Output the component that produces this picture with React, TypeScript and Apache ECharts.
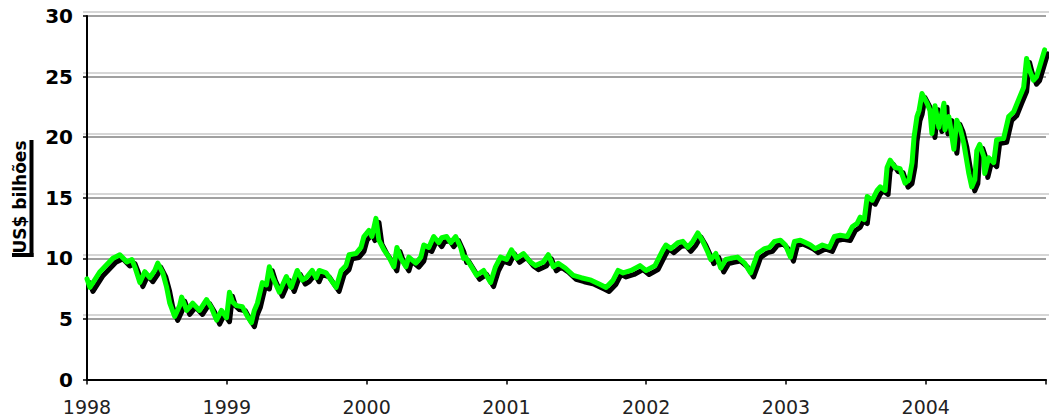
import React, { useEffect, useRef } from "react";
import * as echarts from "echarts";

// Decimal years and reserves in US$ billions
const years = [
  1998.0, 1998.021, 1998.093, 1998.185, 1998.235, 1998.285, 1998.321, 1998.342, 1998.378, 1998.413,
  1998.449, 1998.485, 1998.506, 1998.542, 1998.57, 1998.592, 1998.627, 1998.663, 1998.677, 1998.713,
  1998.756, 1998.805, 1998.855, 1998.891, 1998.927, 1998.962, 1998.998, 1999.019, 1999.041, 1999.069,
  1999.112, 1999.148, 1999.176, 1999.197, 1999.219, 1999.254, 1999.283, 1999.304, 1999.326, 1999.376,
  1999.426, 1999.461, 1999.504, 1999.54, 1999.568, 1999.611, 1999.639, 1999.661, 1999.711, 1999.746,
  1999.782, 1999.818, 1999.853, 1999.875, 1999.924, 1999.96, 1999.981, 2000.017, 2000.038, 2000.067,
  2000.088, 2000.124, 2000.16, 2000.195, 2000.217, 2000.245, 2000.281, 2000.302, 2000.352, 2000.388,
  2000.409, 2000.445, 2000.48, 2000.516, 2000.537, 2000.573, 2000.602, 2000.637, 2000.673, 2000.694,
  2000.708, 2000.751, 2000.787, 2000.837, 2000.887, 2000.922, 2000.958, 2001.001, 2001.036, 2001.072,
  2001.122, 2001.172, 2001.207, 2001.264, 2001.3, 2001.336, 2001.371, 2001.421, 2001.478, 2001.535,
  2001.606, 2001.678, 2001.713, 2001.763, 2001.799, 2001.835, 2001.892, 2001.956, 2001.999, 2002.063,
  2002.12, 2002.141, 2002.177, 2002.227, 2002.262, 2002.298, 2002.334, 2002.369, 2002.405, 2002.441,
  2002.462, 2002.498, 2002.533, 2002.569, 2002.605, 2002.654, 2002.704, 2002.747, 2002.776, 2002.797,
  2002.847, 2002.882, 2002.918, 2002.961, 2002.996, 2003.032, 2003.061, 2003.103, 2003.139, 2003.175,
  2003.21, 2003.26, 2003.31, 2003.346, 2003.388, 2003.438, 2003.474, 2003.51, 2003.531, 2003.56,
  2003.581, 2003.617, 2003.652, 2003.674, 2003.709, 2003.723, 2003.745, 2003.78, 2003.816, 2003.852,
  2003.88, 2003.902, 2003.916, 2003.937, 2003.952, 2003.973, 2004.009, 2004.03, 2004.044, 2004.066,
  2004.094, 2004.13, 2004.137, 2004.165, 2004.201, 2004.222, 2004.244, 2004.272, 2004.308, 2004.329,
  2004.351, 2004.365, 2004.386, 2004.415, 2004.422, 2004.45, 2004.486, 2004.507, 2004.557, 2004.593,
  2004.629, 2004.664, 2004.7, 2004.721, 2004.743, 2004.771, 2004.793, 2004.814, 2004.85,
];

const reserves = [
  8.3, 7.6, 8.9, 10.0, 10.3, 9.7, 9.9, 9.3, 8.0, 8.9,
  8.4, 9.0, 9.6, 8.8, 7.6, 6.3, 5.2, 6.1, 6.8, 5.7,
  6.3, 5.7, 6.6, 5.9, 4.9, 5.7, 5.1, 7.2, 6.4, 6.1,
  6.0, 5.2, 4.7, 5.7, 6.3, 8.0, 7.8, 9.3, 8.5, 7.2,
  8.5, 7.6, 9.0, 8.2, 8.4, 9.0, 8.4, 9.0, 8.8, 8.2,
  7.6, 9.0, 9.4, 10.3, 10.4, 10.9, 11.8, 12.3, 11.8, 13.3,
  11.5, 10.7, 10.1, 9.3, 10.9, 10.0, 9.3, 10.1, 9.6, 10.1,
  11.1, 10.9, 11.8, 11.3, 11.7, 11.8, 11.3, 11.8, 10.9, 10.0,
  10.1, 9.3, 8.6, 9.0, 8.0, 9.3, 10.1, 9.9, 10.7, 10.0,
  10.4, 9.7, 9.4, 9.7, 10.3, 9.3, 9.6, 9.2, 8.6, 8.4,
  8.2, 7.8, 7.6, 8.2, 9.0, 8.8, 9.0, 9.4, 9.0, 9.4,
  10.7, 11.1, 10.8, 11.3, 11.4, 10.9, 11.4, 12.1, 11.4, 10.5,
  9.9, 10.4, 9.2, 9.9, 10.0, 10.1, 9.6, 8.8, 9.7, 10.4,
  10.8, 10.9, 11.4, 11.5, 11.1, 10.1, 11.4, 11.5, 11.3, 11.1,
  10.8, 11.1, 10.9, 11.8, 11.9, 11.8, 12.6, 12.9, 13.4, 13.2,
  15.1, 14.8, 15.6, 15.9, 15.6, 17.5, 18.1, 17.5, 17.4, 16.2,
  16.5, 17.9, 20.0, 21.7, 22.2, 23.6, 22.8, 22.2, 20.3, 22.6,
  20.8, 22.8, 20.6, 21.7, 19.0, 21.4, 20.8, 19.5, 17.0, 15.9,
  16.5, 18.9, 19.4, 18.4, 17.0, 18.3, 17.9, 19.8, 19.9, 21.7,
  22.1, 23.1, 24.1, 26.5, 25.5, 24.7, 25.0, 25.8, 27.2,
];

const yTicks = [0, 5, 10, 15, 20, 25, 30];
const xStart = 1998;
const xEnd = 2004.86;
const yTitle = "US$ bilhões";

export default function App() {
  const ref = useRef<HTMLDivElement>(null);

  useEffect(() => {
    if (!ref.current) return;
    const chart = echarts.init(ref.current, null, { renderer: "svg" });
    const data = years.map((y, i) => [y, reserves[i]]);
    const yMin = yTicks[0];
    const yMax = yTicks[yTicks.length - 1];

    chart.setOption({
      animation: false,
      backgroundColor: "#ffffff",
      grid: [
        { left: 87, right: 0, top: 16, bottom: 40.5 },
        { left: 90, right: -3, top: 20, bottom: 36.5 },
        { left: 83, right: 0, top: 12, bottom: 104.8 },
      ],
      xAxis: [
        {
          gridIndex: 0,
          type: "value",
          min: xStart,
          max: xEnd,
          interval: 1,
          axisLine: { show: true, onZero: false, lineStyle: { color: "#000", width: 2 } },
          axisTick: { show: true, length: 5, lineStyle: { color: "#000", width: 1.5 } },
          axisLabel: {
            fontFamily: "DejaVu Sans",
            fontSize: 19,
            color: "#222",
            margin: 18,
            formatter: (v: number) => (Number.isInteger(v) ? String(v) : ""),
          },
          splitLine: { show: false },
        },
        { gridIndex: 1, type: "value", min: xStart, max: xEnd, show: false },
        { gridIndex: 2, type: "value", min: xStart, max: xEnd, show: false },
      ],
      yAxis: [
        {
          gridIndex: 0,
          type: "value",
          min: yMin,
          max: yMax,
          interval: 5,
          axisLine: { show: true, onZero: false, lineStyle: { color: "#000", width: 2 } },
          axisTick: { show: true, length: 4, lineStyle: { color: "#000", width: 1.5 } },
          axisLabel: {
            fontFamily: "DejaVu Sans",
            fontWeight: "bold",
            fontSize: 20,
            color: "#000",
            margin: 14,
            formatter: (v: number) => String(v),
          },
          splitLine: { show: true, lineStyle: { color: "#808080", width: 1.6 } },
        },
        { gridIndex: 1, type: "value", min: yMin, max: yMax, show: false },
        {
          gridIndex: 2,
          type: "value",
          min: 5,
          max: yMax,
          interval: 5,
          axisLine: { show: false },
          axisTick: { show: false },
          axisLabel: { show: false },
          splitLine: { show: true, lineStyle: { color: "#c8c8c8", width: 1.6 } },
        },
      ],
      graphic: [
        {
          type: "text",
          x: 20,
          y: 197,
          rotation: Math.PI / 2,
          style: {
            text: yTitle,
            fontFamily: "DejaVu Sans",
            fontWeight: "bold",
            fontSize: 17,
            fill: "#000",
            align: "center",
            verticalAlign: "middle",
          },
        },
        { type: "rect", shape: { x: 29.5, y: 140, width: 4, height: 117 }, style: { fill: "#000" } },
        { type: "rect", shape: { x: 12, y: 253, width: 21.5, height: 4 }, style: { fill: "#000" } },
      ],
      series: [
        {
          type: "line",
          xAxisIndex: 1,
          yAxisIndex: 1,
          data,
          showSymbol: false,
          symbol: "none",
          clip: false,
          z: 3,
          lineStyle: { color: "#000000", width: 5, cap: "round", join: "round" },
        },
        {
          type: "line",
          xAxisIndex: 0,
          yAxisIndex: 0,
          data,
          showSymbol: false,
          symbol: "none",
          clip: false,
          z: 4,
          lineStyle: { color: "#00ff00", width: 5, cap: "round", join: "round" },
        },
      ],
    });
    return () => chart.dispose();
  }, []);

  return (
    <div
      ref={ref}
      style={{ position: "fixed", left: 0, top: 0, width: 1049, height: 420, background: "#fff" }}
    />
  );
}
